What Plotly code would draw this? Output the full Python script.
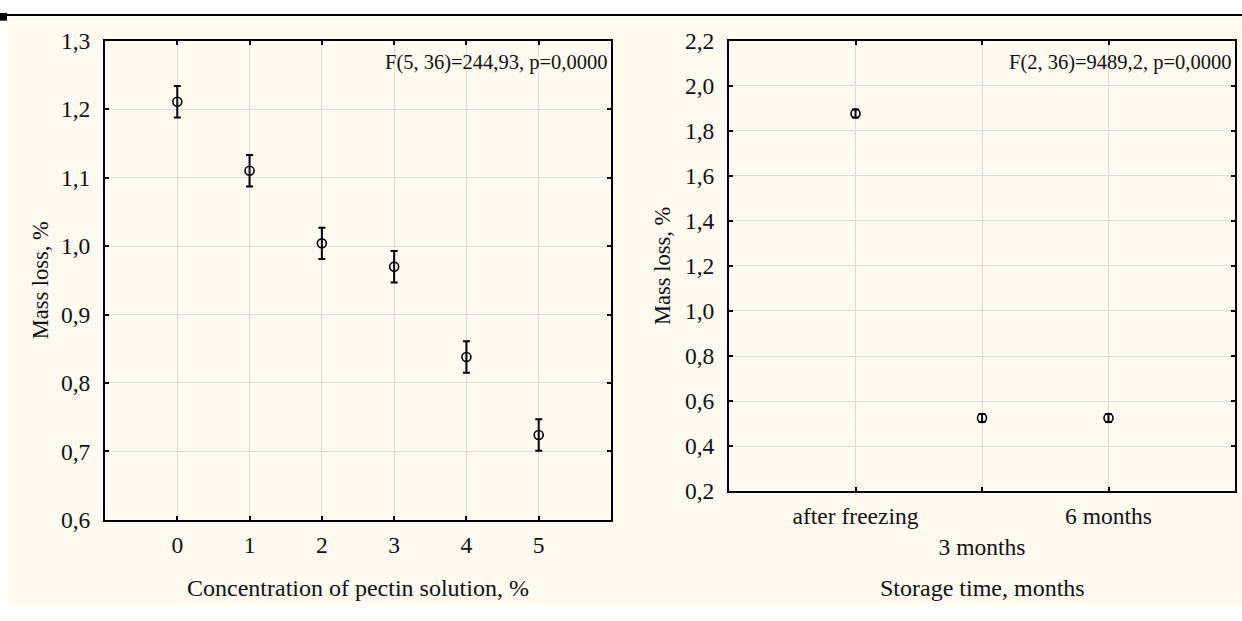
import plotly.graph_objects as go

# ---- data ----
conc_categories = [0, 1, 2, 3, 4, 5]
conc_mass_loss = [1.211, 1.110, 1.004, 0.970, 0.838, 0.724]
conc_err = [0.023, 0.023, 0.023, 0.023, 0.023, 0.023]

storage_labels = ["after freezing", "3 months", "6 months"]
storage_pos = [0, 1, 2]
storage_mass_loss = [1.877, 0.525, 0.525]
storage_err = [0.018, 0.018, 0.018]

left_stat = "F(5, 36)=244,93, p=0,0000"
right_stat = "F(2, 36)=9489,2, p=0,0000"

W, H = 1242, 621
FONT = "Liberation Serif"
CREAM = "#FEFAEF"
GRID = "#DCDCDC"
TICK_SIZE = 23.5
TITLE_SIZE = 24
YTITLE_SIZE = 22.5
STAT_SIZE = 20.5

def px_x(p):
    return p / W

def px_y(p):
    return 1 - p / H

fig = go.Figure()

marker = dict(symbol="circle-open", size=9, color="black", line=dict(width=1.6, color="black"))

fig.add_trace(go.Scatter(
    x=conc_categories, y=conc_mass_loss, mode="markers",
    marker=marker,
    error_y=dict(type="data", array=conc_err, visible=True, color="black", thickness=2, width=3.5),
    xaxis="x", yaxis="y", showlegend=False,
))

fig.add_trace(go.Scatter(
    x=storage_pos, y=storage_mass_loss, mode="markers",
    marker=marker,
    error_y=dict(type="data", array=storage_err, visible=True, color="black", thickness=2, width=3.5),
    xaxis="x2", yaxis="y2", showlegend=False,
))

axis_common = dict(
    showline=True, linecolor="black", linewidth=2, mirror="ticks",
    ticks="inside", ticklen=4, tickwidth=1.5, tickcolor="black",
    showgrid=True, gridcolor=GRID, gridwidth=1, zeroline=False,
    tickfont=dict(family=FONT, size=TICK_SIZE, color="#111"),
)

L_x0, L_x1, L_y0, L_y1 = 105, 611, 529, 29
R_x0, R_x1, R_y0, R_y1 = 729, 1235, 499, 29

storage_ticktext = [("<br>" + t) if i == 1 else t for i, t in enumerate(storage_labels)]

fig.update_layout(
    width=W, height=H,
    margin=dict(l=0, r=0, t=0, b=0),
    paper_bgcolor="white",
    plot_bgcolor="white",
    separators=", ",
    font=dict(family=FONT, size=TICK_SIZE, color="#111"),
    xaxis=dict(domain=[px_x(L_x0), px_x(L_x1)], range=[-1, 6],
               tickvals=conc_categories, ticktext=[str(c) for c in conc_categories],
               anchor="y", ticklabelstandoff=3, **axis_common),
    yaxis=dict(domain=[px_y(L_y0), px_y(L_y1)], range=[0.6, 1.3], dtick=0.1,
               tickformat=".1f", anchor="x", ticklabelstandoff=8, **axis_common),
    xaxis2=dict(domain=[px_x(R_x0), px_x(R_x1)], range=[-1, 3],
                tickvals=storage_pos, ticktext=storage_ticktext,
                anchor="y2", ticklabelstandoff=3, **axis_common),
    yaxis2=dict(domain=[px_y(R_y0), px_y(R_y1)], range=[0.2, 2.2], dtick=0.2,
                tickformat=".1f", anchor="x2", ticklabelstandoff=8, **axis_common),
)

shapes = [
    dict(type="rect", xref="paper", yref="paper", x0=px_x(8), x1=1, y0=px_y(619), y1=px_y(4),
         fillcolor=CREAM, line=dict(width=0), layer="below"),
    dict(type="line", xref="paper", yref="paper", x0=0, x1=1, y0=px_y(2), y1=px_y(2),
         line=dict(color="black", width=2)),
    dict(type="rect", xref="paper", yref="paper", x0=0, x1=px_x(7), y0=px_y(8), y1=1,
         fillcolor="black", line=dict(width=0)),
]
fig.update_layout(shapes=shapes)

annotations = [
    dict(text=left_stat, xref="paper", yref="paper", x=px_x(609), y=px_y(52),
         xanchor="right", yanchor="middle", showarrow=False, font=dict(family=FONT, size=STAT_SIZE, color="#111")),
    dict(text=right_stat, xref="paper", yref="paper", x=px_x(1233), y=px_y(52),
         xanchor="right", yanchor="middle", showarrow=False, font=dict(family=FONT, size=STAT_SIZE, color="#111")),
    dict(text="Mass loss, %", xref="paper", yref="paper", x=px_x(40), y=px_y((L_y0 + L_y1) / 2),
         textangle=-90, xanchor="center", yanchor="middle", showarrow=False,
         font=dict(family=FONT, size=YTITLE_SIZE, color="#111")),
    dict(text="Mass loss, %", xref="paper", yref="paper", x=px_x(663), y=px_y((R_y0 + R_y1) / 2),
         textangle=-90, xanchor="center", yanchor="middle", showarrow=False,
         font=dict(family=FONT, size=YTITLE_SIZE, color="#111")),
    dict(text="Concentration of pectin solution, %", xref="paper", yref="paper",
         x=px_x((L_x0 + L_x1) / 2), y=px_y(600), xanchor="center", yanchor="middle", showarrow=False,
         font=dict(family=FONT, size=TITLE_SIZE, color="#111")),
    dict(text="Storage time, months", xref="paper", yref="paper",
         x=px_x((R_x0 + R_x1) / 2), y=px_y(600), xanchor="center", yanchor="middle", showarrow=False,
         font=dict(family=FONT, size=TITLE_SIZE, color="#111")),
]
fig.update_layout(annotations=annotations)

fig.write_html("out.html")
